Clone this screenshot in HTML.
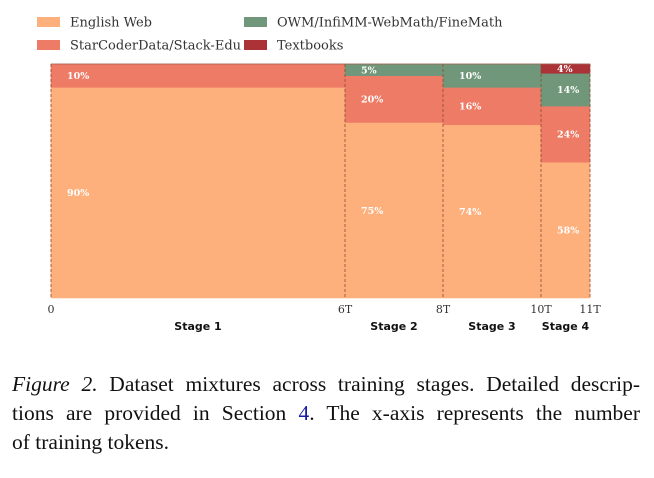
<!DOCTYPE html>
<html><head><meta charset="utf-8"><style>
body{margin:0;background:#fff;width:654px;height:478px;overflow:hidden}
#cap{position:absolute;left:12px;top:370px;width:628px;font-family:"Liberation Serif",serif;font-size:21.5px;line-height:29px;color:#111}
.j{text-align:justify;text-align-last:justify;white-space:nowrap}
</style></head><body>
<svg id="chart" width="654" height="360" style="position:absolute;left:0;top:0" xmlns="http://www.w3.org/2000/svg"></svg>
<div id="cap"><div class="j"><i>Figure 2.</i> Dataset mixtures across training stages. Detailed descrip-</div><div class="j">tions are provided in Section <span style="color:#1a1aa6">4</span>. The x-axis represents the number</div><div>of training tokens.</div></div>
<script>
const stageNames=["Stage 1","Stage 2","Stage 3","Stage 4"];
const stageStart=[0,6,8,10];
const stageEnd=[6,8,10,11];
const seriesNames=["English Web","StarCoderData/Stack-Edu","OWM/InfiMM-WebMath/FineMath","Textbooks"];
const englishWeb=[90,75,74,58];
const code=[10,20,16,24];
const math=[0,5,10,14];
const textbooks=[0,0,0,4];
const tickValues=[0,6,8,10,11];
const tickLabels=["0","6T","8T","10T","11T"];
const colors=["#fdb07c","#ee7b66","#71977a","#ab3237"];
const svg=document.getElementById('chart');
const NS="http://www.w3.org/2000/svg";
const X0=51,X1=590,Y0=298,Y1=64,XMAX=11;
const xs=v=>X0+(X1-X0)*v/XMAX;
const ys=p=>Y0-(Y0-Y1)*p/100;
function mk(t,a){const e=document.createElementNS(NS,t);for(const k in a)e.setAttribute(k,a[k]);svg.appendChild(e);return e;}
const series=[englishWeb,code,math,textbooks];
for(let s=0;s<stageNames.length;s++){
  let cum=0;const xa=xs(stageStart[s]),xb=xs(stageEnd[s]);
  for(let k=0;k<series.length;k++){
    const v=series[k][s];if(!v)continue;
    const r=mk('rect',{x:xa,y:ys(cum+v),width:xb-xa,height:ys(cum)-ys(cum+v),fill:colors[k],stroke:colors[k],'stroke-width':0.5});
    
    
    const t=mk('text',{x:xa+16,y:(ys(cum)+ys(cum+v))/2+3.5,fill:'#fff','font-family':'DejaVu Serif, serif','font-weight':'bold','font-size':9.5});
    t.textContent=v+'%';
    
    
    cum+=v;
  }
  const d=mk('line',{x1:xa,x2:xa,y1:Y1,y2:Y0,stroke:'#8a4a30','stroke-width':0.8,'stroke-dasharray':'3,2'});
  
  
  const sl=mk('text',{x:(xa+xb)/2,y:330,'text-anchor':'middle','font-family':'DejaVu Sans, sans-serif','font-weight':'bold','font-size':11,fill:'#111'});
  sl.textContent=stageNames[s];
  
  
}
mk('line',{x1:xs(XMAX),x2:xs(XMAX),y1:Y1,y2:Y0,stroke:'#8a4a30','stroke-width':0.8,'stroke-dasharray':'3,2'});
mk('line',{x1:X0,x2:X1,y1:Y1,y2:Y1,stroke:'#a06050','stroke-width':0.8});
for(let i=0;i<tickValues.length;i++){
  const t=mk('text',{x:xs(tickValues[i]),y:313,'text-anchor':'middle','font-family':'DejaVu Serif, serif','font-size':11,fill:'#333'});
  t.textContent=tickLabels[i];
  
  
}
const legPos=[[37,22],[37,45],[244,22],[244,45]];
for(let k=0;k<4;k++){
  const [lx,ly]=legPos[k];
  const r=mk('rect',{x:lx,y:ly-5,width:23,height:10,fill:colors[k]});
  
  
  const t=mk('text',{x:lx+33,y:ly+4.5,'font-family':'DejaVu Serif, serif','font-size':13,fill:'#333'});
  t.textContent=seriesNames[k];
  
  
}
</script>
</body></html>
